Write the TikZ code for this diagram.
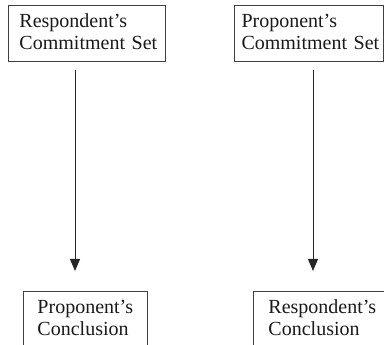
\documentclass[tikz,border=0pt]{standalone}
\usepackage{fontspec}
\setmainfont{Liberation Serif}
\usetikzlibrary{arrows.meta}

\tikzset{
  partybox/.style={draw=black!75, line width=1pt, anchor=north west,
    align=left, inner ysep=8pt, text height=14pt, text=black!90,
    font=\fontsize{20}{22}\selectfont},
  flow/.style={draw=black!85, line width=1pt,
    -{Triangle[width=10pt,length=12pt]}}
}

\begin{document}
\begin{tikzpicture}[x=1pt,y=1pt]
  \useasboundingbox (0,0) rectangle (384,-345);
  \clip (0,0) rectangle (384,-345);

  % commitment sets
  \node[partybox, inner xsep=11pt, text width=135pt, text depth=26pt]
    (rcs) at (8,-5) {\mbox{Respondent’s}\\\mbox{Commitment Set}};
  \node[partybox, inner xsep=7pt, text width=135pt, text depth=26pt]
    (pcs) at (234,-5) {\mbox{Proponent’s}\\\mbox{Commitment Set}};

  % conclusions
  \node[partybox, inner xsep=14pt, text width=96pt, text depth=60pt]
    (pc) at (23,-291) {\mbox{Proponent’s}\\\mbox{Conclusion}};
  \node[partybox, inner xsep=15pt, text width=120pt, text depth=60pt]
    (rc) at (253,-291) {\mbox{Respondent’s}\\\mbox{Conclusion}};

  % arrow columns
  \coordinate (lx) at (75,0);
  \coordinate (rx) at (313,0);

  \draw[flow] ([yshift=-8pt]rcs.south -| lx) -- ([yshift=20pt]pc.north -| lx);
  \draw[flow] ([yshift=-8pt]pcs.south -| rx) -- ([yshift=20pt]rc.north -| rx);
\end{tikzpicture}
\end{document}
